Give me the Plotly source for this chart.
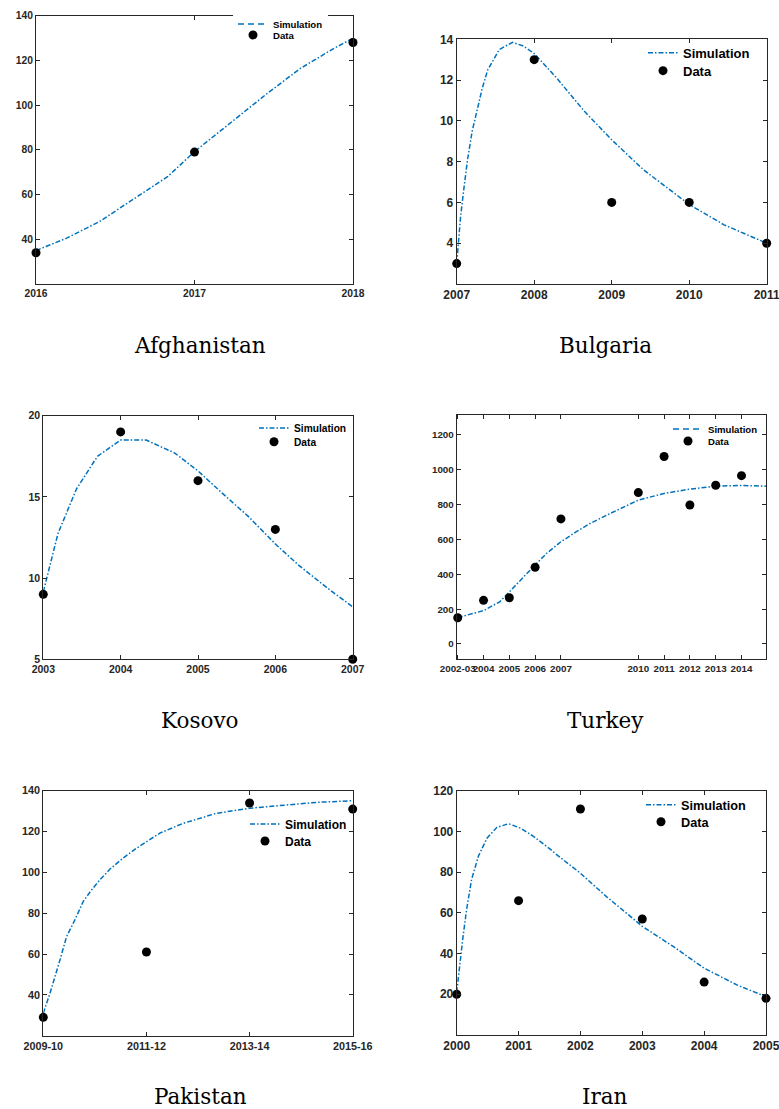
import plotly.graph_objects as go

W, H = 779, 1109

# ---------------- data ----------------
# Afghanistan
afg_years = [2016, 2017, 2018]
afg_data = [34, 79, 128]
afg_sim_t = [2016.0, 2016.19, 2016.4, 2016.61, 2016.83, 2017.0, 2017.25, 2017.46, 2017.67, 2017.88, 2018.0]
afg_sim = [35, 40.4, 47.9, 57.6, 68, 79.2, 93.4, 105.3, 116.5, 125.4, 129.9]

# Bulgaria
bul_years = [2007, 2008, 2009, 2010, 2011]
bul_data = [3, 13, 6, 6, 4]
bul_sim_t = [2007.0, 2007.02, 2007.05, 2007.09, 2007.14, 2007.2, 2007.27, 2007.33, 2007.4, 2007.55,
             2007.72, 2007.86, 2008.0, 2008.29, 2008.64, 2009.0, 2009.41, 2010.0, 2010.45, 2011.0]
bul_sim = [3.0, 4.0, 5.3, 6.6, 8.1, 9.5, 10.7, 11.6, 12.5, 13.5,
           13.85, 13.67, 13.3, 12.1, 10.5, 9.07, 7.6, 5.9, 4.9, 4.0]

# Kosovo
kos_years = [2003, 2004, 2005, 2006, 2007]
kos_data = [9, 19, 16, 13, 5]
kos_sim_t = [2003.0, 2003.19, 2003.43, 2003.7, 2004.0, 2004.33, 2004.7, 2005.0, 2005.32, 2005.65,
             2006.0, 2006.3, 2006.65, 2007.0]
kos_sim = [9.16, 12.75, 15.5, 17.5, 18.5, 18.5, 17.7, 16.6, 15.2, 13.8, 12.1, 10.8, 9.47, 8.23]

# Turkey
tur_years = [2003, 2004, 2005, 2006, 2007, 2010, 2011, 2012, 2013, 2014]
tur_labels = ["2002-03", "2004", "2005", "2006", "2007", "2010", "2011", "2012", "2013", "2014"]
tur_data = [150, 250, 265, 440, 717, 868, 1075, 797, 910, 965]
tur_sim_t = [2003.0, 2004.0, 2004.64, 2005.0, 2005.55, 2006.0, 2006.45, 2007.0, 2007.6, 2008.13,
             2008.78, 2009.42, 2010.0, 2011.0, 2012.0, 2013.0, 2014.0, 2014.95]
tur_sim = [151, 191, 243, 300, 386, 453, 520, 586, 644, 691, 739, 783, 825, 863, 888, 905, 909, 905]

# Pakistan
pak_idx = [0, 1, 2, 3]
pak_labels = ["2009-10", "2011-12", "2013-14", "2015-16"]
pak_data = [29, 61, 134, 131]
pak_sim_t = [0, 0.065, 0.161, 0.226, 0.306, 0.387, 0.468, 0.548, 0.645, 0.774, 0.903, 1.0, 1.129,
             1.355, 1.677, 2.0, 2.32, 2.65, 3.0]
pak_sim = [31, 40.8, 57, 68.6, 76.7, 85.7, 91.4, 96.3, 101.5, 107, 111.8, 115.1, 119.2,
           124, 128.9, 131.4, 133, 134.3, 135.1]

# Iran
irn_years = [2000, 2001, 2002, 2003, 2004, 2005]
irn_data = [20, 66, 111, 57, 26, 18]
irn_sim_t = [2000.0, 2000.043, 2000.097, 2000.16, 2000.24, 2000.35, 2000.49, 2000.65, 2000.84, 2001.03,
             2001.24, 2001.49, 2001.62, 2001.99, 2002.42, 2003.0, 2003.5, 2004.0, 2004.53, 2005.0]
irn_sim = [21, 33.9, 47, 61.6, 76.3, 87.8, 96.7, 102, 103.8, 101.6,
           97.6, 91.8, 88.5, 79.7, 68, 53.4, 43.5, 32.8, 24.6, 18.8]

titles = ["Afghanistan", "Bulgaria", "Kosovo", "Turkey", "Pakistan", "Iran"]

# ---------------- styling ----------------
BLUE = "#0072BD"
AX = "#262626"
SANS = "Liberation Sans, Arial, sans-serif"
SERIF = "DejaVu Serif, serif"
DASHDOT = "5px,2px,1.5px,2px"
DASH = "6px,4px"

# panel boxes in pixels: (left, right, top, bottom)
boxes = [
    (36, 353, 15.7, 284),
    (456.7, 766.7, 39.3, 284),
    (43.3, 352.7, 415.7, 659.3),
    (456.7, 766, 415, 659.3),
    (43.3, 352.7, 790.7, 1035.7),
    (456.7, 766, 790.7, 1035),
]

panels = [
    dict(sim_t=afg_sim_t, sim=afg_sim, x=afg_years, y=afg_data, xr=[2016, 2018], yr=[20, 140],
         xt=afg_years, xtt=[str(v) for v in afg_years], yt=[40, 60, 80, 100, 120, 140], fs=10.3,
         leg=(273, 24, 35, 9.6), legdash=DASH, legbg=True),
    dict(sim_t=bul_sim_t, sim=bul_sim, x=bul_years, y=bul_data, xr=[2007, 2011], yr=[2, 14],
         xt=bul_years, xtt=[str(v) for v in bul_years], yt=[4, 6, 8, 10, 12, 14], fs=12,
         leg=(683, 52.7, 70.7, 13), legdash=None, legbg=False),
    dict(sim_t=kos_sim_t, sim=kos_sim, x=kos_years, y=kos_data, xr=[2003, 2007], yr=[5, 20],
         xt=kos_years, xtt=[str(v) for v in kos_years], yt=[5, 10, 15, 20], fs=10.5,
         leg=(294, 428, 441.7, 10.2), legdash=None, legbg=False),
    dict(sim_t=tur_sim_t, sim=tur_sim, x=tur_years, y=tur_data, xr=[2002.96, 2014.95], yr=[-88, 1313],
         xt=tur_years, xtt=tur_labels, yt=[0, 200, 400, 600, 800, 1000, 1200], fs=9.8,
         leg=(708, 429, 441, 9.6), legdash=DASH, legbg=False),
    dict(sim_t=pak_sim_t, sim=pak_sim, x=pak_idx, y=pak_data, xr=[0, 3], yr=[20, 140],
         xt=pak_idx, xtt=pak_labels, yt=[40, 60, 80, 100, 120, 140], fs=10.8,
         leg=(285, 824, 841, 12), legdash=None, legbg=False),
    dict(sim_t=irn_sim_t, sim=irn_sim, x=irn_years, y=irn_data, xr=[2000, 2005], yr=[0, 120],
         xt=irn_years, xtt=[str(v) for v in irn_years], yt=[20, 40, 60, 80, 100, 120], fs=12,
         leg=(681, 805, 822, 12.7), legdash=None, legbg=False),
]

fig = go.Figure()
layout = dict(width=W, height=H, autosize=False,
              margin=dict(l=0, r=0, t=0, b=0, pad=0, autoexpand=False),
              paper_bgcolor="white", plot_bgcolor="white", annotations=[])

leg_n = 0
def next_legend():
    global leg_n
    leg_n += 1
    return "legend" if leg_n == 1 else f"legend{leg_n}"

for i, (p, b) in enumerate(zip(panels, boxes)):
    n = i + 1
    xa = "x" if n == 1 else f"x{n}"
    ya = "y" if n == 1 else f"y{n}"
    l, r, t, bt = b
    tfont = dict(family=SANS, size=p["fs"], color=AX, weight="bold")
    layout["xaxis" if n == 1 else f"xaxis{n}"] = dict(
        domain=[l / W, r / W], anchor=ya, range=p["xr"], tickmode="array",
        tickvals=p["xt"], ticktext=p["xtt"], ticks="inside", ticklen=4, tickcolor=AX,
        showline=True, linecolor=AX, linewidth=1, mirror="allticks", showgrid=False,
        zeroline=False, tickfont=tfont, tickangle=0, automargin=False,
        ticklabeloverflow="allow")
    layout["yaxis" if n == 1 else f"yaxis{n}"] = dict(
        domain=[1 - bt / H, 1 - t / H], anchor=xa, range=p["yr"], tickmode="array",
        tickvals=p["yt"], ticks="inside", ticklen=4, tickcolor=AX,
        showline=True, linecolor=AX, linewidth=1, mirror="allticks", showgrid=False,
        zeroline=False, tickfont=tfont, automargin=False, ticklabeloverflow="allow")

    tx, y1, y2, lfs = p["leg"]
    lg1 = next_legend()
    lg2 = next_legend()
    for k, (lg, yy) in enumerate(((lg1, y1), (lg2, y2))):
        bg = "white" if (p["legbg"] and k == 0) else "rgba(0,0,0,0)"
        layout[lg] = dict(x=(tx - 40) / W, y=1 - yy / H, xanchor="left", yanchor="middle",
                          bgcolor=bg, borderwidth=0, itemwidth=30,
                          font=dict(family=SANS, size=lfs, color="black", weight="bold"))

    if p["legdash"]:
        fig.add_trace(go.Scatter(x=p["sim_t"], y=p["sim"], mode="lines", xaxis=xa, yaxis=ya,
                                 line=dict(color=BLUE, width=1.5, dash=DASHDOT), showlegend=False))
        fig.add_trace(go.Scatter(x=[None], y=[None], mode="lines", xaxis=xa, yaxis=ya,
                                 name="Simulation", legend=lg1,
                                 line=dict(color=BLUE, width=1.5, dash=p["legdash"])))
    else:
        fig.add_trace(go.Scatter(x=p["sim_t"], y=p["sim"], mode="lines", xaxis=xa, yaxis=ya,
                                 name="Simulation", legend=lg1,
                                 line=dict(color=BLUE, width=1.5, dash=DASHDOT)))
    fig.add_trace(go.Scatter(x=p["x"], y=p["y"], mode="markers", xaxis=xa, yaxis=ya,
                             name="Data", legend=lg2, cliponaxis=False,
                             marker=dict(color="black", size=9, symbol="circle")))

# titles
title_pos = [(200, 345), (605, 345), (200, 720), (605, 720), (200, 1096), (605, 1096)]
for txt, (cx, cy) in zip(titles, title_pos):
    layout["annotations"].append(dict(text=txt, x=cx / W, y=1 - cy / H, xref="paper", yref="paper",
                                      xanchor="center", yanchor="middle", showarrow=False,
                                      font=dict(family=SERIF, size=21.5, color="black")))

fig.update_layout(**layout)
fig.write_html("out.html", config={"displayModeBar": False},
               post_script="document.body.style.margin='0px';document.body.style.overflow='hidden';")
